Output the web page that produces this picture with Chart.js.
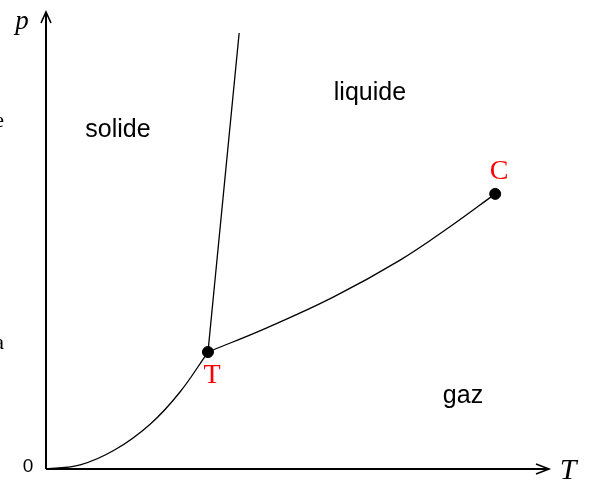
<!DOCTYPE html>
<html>
<head>
<meta charset="utf-8">
<script src="https://cdn.jsdelivr.net/npm/chart.js@4.4.1/dist/chart.umd.min.js"></script>
<style>
  html, body { margin: 0; padding: 0; background: #fff; }
  #wrap { width: 593px; height: 485px; }
</style>
</head>
<body>
<div id="wrap"><canvas id="myChart" width="593" height="485"></canvas></div>
<script>
// Courbe de sublimation (origine -> point triple)
const sublimationT = [0, 6.8, 13.7, 20.7, 26.6, 32.2];
const sublimationP = [0, 0.9, 4.2, 9.8, 16.8, 25.6];

// Courbe de vaporisation (point triple -> point critique)
const vaporisationT = [32.2, 43.9, 57.1, 70.4, 80.3, 89.3];
const vaporisationP = [25.6, 30.9, 37.6, 45.7, 53.0, 60.2];

// Courbe de fusion (point triple -> haut)
const fusionT = [32.2, 38.4];
const fusionP = [25.6, 95.4];

// Points particuliers
const pointNoms = ['T', 'C'];
const pointT = [32.2, 89.3];
const pointP = [25.6, 60.2];

// Étiquettes des zones
const zones = ['solide', 'liquide', 'gaz'];
const zonesT = [14.3, 64.4, 82.9];
const zonesP = [74.2, 82.3, 15.9];

const toXY = (xs, ys) => xs.map((x, i) => ({ x: x, y: ys[i] }));

const ligne = {
  borderColor: '#000',
  borderWidth: 1.3,
  pointRadius: 0,
  fill: false,
  tension: 0.4
};

// Dessin des axes, flèches et textes
const decor = {
  id: 'decor',
  afterDatasetsDraw(chart) {
    const c = chart.ctx;
    const xs = chart.scales.x, ys = chart.scales.y;
    const x0 = xs.getPixelForValue(0), y0 = ys.getPixelForValue(0);
    const xMax = xs.getPixelForValue(100), yMax = ys.getPixelForValue(100);
    c.save();
    c.strokeStyle = '#000';
    c.lineWidth = 2;
    c.beginPath();
    c.moveTo(x0, y0); c.lineTo(xMax, y0);
    c.moveTo(x0, y0); c.lineTo(x0, yMax);
    c.stroke();
    c.lineWidth = 1.6;
    c.beginPath();
    c.moveTo(x0 - 5, yMax + 11); c.lineTo(x0, yMax); c.lineTo(x0 + 5, yMax + 11);
    c.moveTo(xMax - 13, y0 - 5); c.lineTo(xMax, y0); c.lineTo(xMax - 13, y0 + 5);
    c.stroke();

    c.fillStyle = '#000';
    c.textAlign = 'center';
    c.textBaseline = 'middle';
    c.font = 'italic 27px "Liberation Serif", serif';
    c.fillText('p', x0 - 24, yMax + 10);
    c.font = 'italic 30px "Liberation Serif", serif';
    c.fillText('T', xMax + 19, y0 + 2);

    c.font = '19px Arimo, "Liberation Sans", Arial, sans-serif';
    c.fillText('0', x0 - 18, y0 - 2);

    c.font = '22px "Liberation Serif", serif';
    c.textAlign = 'right';
    c.fillText('e', 4, 121);
    c.fillText('a', 4, 343);

    c.textAlign = 'center';
    c.font = '25px "Liberation Sans", Arial, sans-serif';
    zones.forEach((z, i) => {
      c.fillText(z, xs.getPixelForValue(zonesT[i]), ys.getPixelForValue(zonesP[i]));
    });

    c.fillStyle = '#f00';
    c.font = '28px "Liberation Serif", serif';
    pointNoms.forEach((n, i) => {
      const px = xs.getPixelForValue(pointT[i]);
      const py = ys.getPixelForValue(pointP[i]);
      if (n === 'T') c.fillText(n, px + 4, py + 24);
      else c.fillText(n, px + 4, py - 22);
    });
    c.restore();
  }
};

const ctx = document.getElementById('myChart').getContext('2d');
const myChart = new Chart(ctx, {
  type: 'line',
  data: {
    datasets: [
      Object.assign({ label: 'sublimation', data: toXY(sublimationT, sublimationP) }, ligne),
      Object.assign({ label: 'vaporisation', data: toXY(vaporisationT, vaporisationP) }, ligne),
      Object.assign({ label: 'fusion', data: toXY(fusionT, fusionP) }, ligne),
      {
        label: 'points',
        data: toXY(pointT, pointP),
        pointRadius: 5.5,
        pointBackgroundColor: '#000',
        pointBorderColor: '#000',
        showLine: false
      }
    ]
  },
  options: {
    responsive: false,
    animation: false,
    events: [],
    layout: { padding: { left: 46, right: 44, top: 12, bottom: 16 } },
    plugins: { legend: { display: false }, tooltip: { enabled: false } },
    scales: {
      x: { type: 'linear', min: 0, max: 100, display: false },
      y: { type: 'linear', min: 0, max: 100, display: false }
    }
  },
  plugins: [decor]
});
</script>
</body>
</html>
